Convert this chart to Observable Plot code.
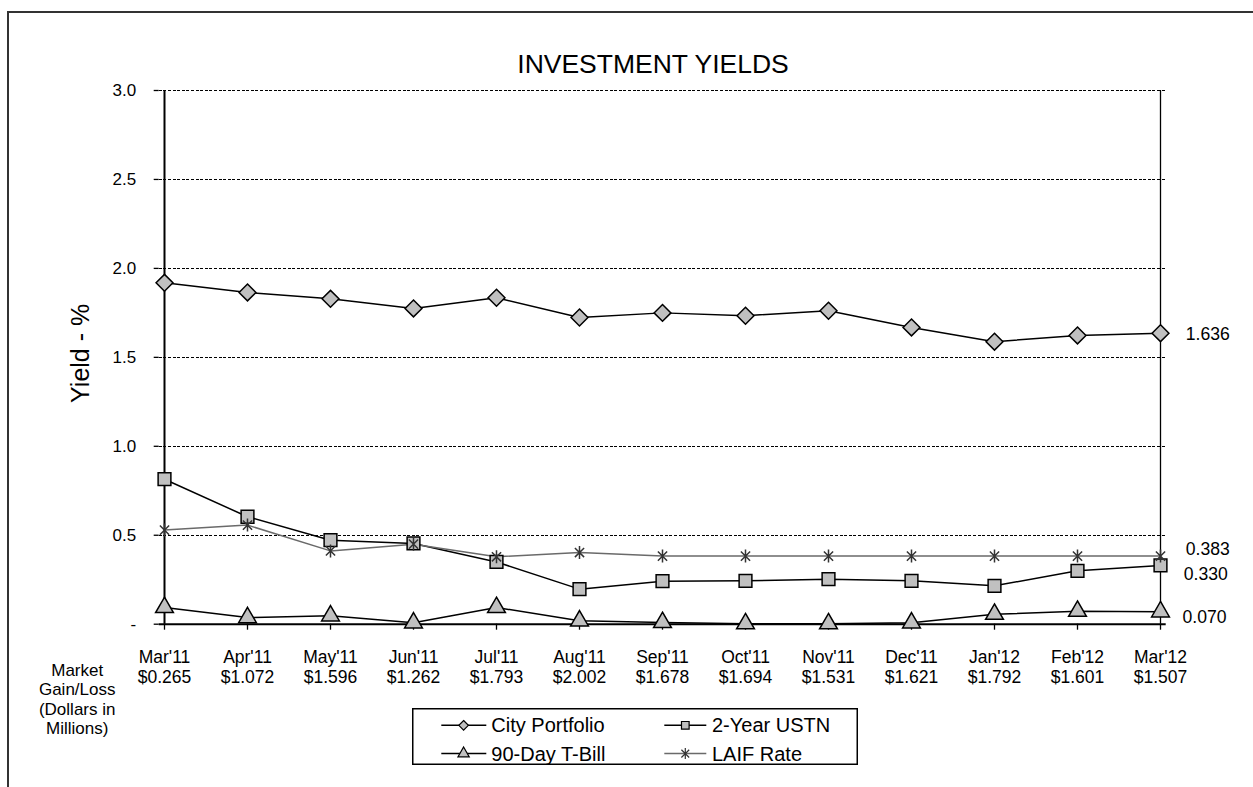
<!DOCTYPE html>
<html>
<head>
<meta charset="utf-8">
<script src="https://cdn.jsdelivr.net/npm/d3@7"></script>
<script src="https://cdn.jsdelivr.net/npm/@observablehq/plot@0.6"></script>
<style>
  html, body { margin: 0; padding: 0; background: #fff; overflow: hidden; }
  #page { position: relative; width: 1253px; height: 787px; font-family: "Liberation Sans", Arial, sans-serif; }
  #frame { position: absolute; left: 7px; top: 11px; width: 1300px; height: 820px; border-left: 2px solid #333; border-top: 2px solid #333; }
  #chart { position: absolute; left: 0; top: 0; }
  #legend { position: absolute; left: 411.7px; top: 707.7px; }
</style>
</head>
<body>
<div id="page">
  <div id="frame"></div>
  <div id="chart"></div>
  <div id="legend"></div>
</div>
<script>
// ---- data ----
const months = ["Mar'11","Apr'11","May'11","Jun'11","Jul'11","Aug'11","Sep'11","Oct'11","Nov'11","Dec'11","Jan'12","Feb'12","Mar'12"];
const gainLoss = ["$0.265","$1.072","$1.596","$1.262","$1.793","$2.002","$1.678","$1.694","$1.531","$1.621","$1.792","$1.601","$1.507"];
const cityPortfolio = [1.919,1.865,1.829,1.775,1.835,1.724,1.750,1.734,1.762,1.668,1.588,1.623,1.636];
const twoYearUSTN   = [0.815,0.604,0.472,0.454,0.350,0.197,0.242,0.244,0.253,0.244,0.216,0.300,0.330];
const tBill90Day    = [0.094,0.037,0.047,0.008,0.094,0.019,0.010,0.003,0.003,0.008,0.056,0.073,0.070];
const laifRate      = [0.529,0.557,0.412,0.450,0.379,0.403,0.383,0.383,0.383,0.383,0.383,0.383,0.383];
const yTicks = [0, 0.5, 1.0, 1.5, 2.0, 2.5, 3.0];
const gridTicks = [0.5, 1.0, 1.5, 2.0, 2.5, 3.0];
const seriesNames = ["City Portfolio", "2-Year USTN", "90-Day T-Bill", "LAIF Rate"];

const FONT = '"Liberation Sans", Arial, sans-serif';
const rows = arr => months.map((m, i) => ({m, v: arr[i]}));
const xRows = months.map((m, i) => ({m, g: gainLoss[i]}));
const last = arr => [{m: months[months.length - 1], v: arr[arr.length - 1]}];

// Excel-style star: vertical stroke plus an X
const starSymbol = {
  draw(context, size) {
    const r = Math.sqrt(size / Math.PI);
    const a = r * 0.7071;
    context.moveTo(0, -r); context.lineTo(0, r);
    context.moveTo(-a, -a); context.lineTo(a, a);
    context.moveTo(-a, a); context.lineTo(a, -a);
  }
};

const fillGray = "#c0c0c0";

const series = [
  {data: cityPortfolio, symbol: "diamond2", sym: d3.symbolDiamond2, r: 7.6, lr: 4.3, line: "#000", mstroke: "#000", fill: fillGray, dy: 1.6, dx: 25.3},
  {data: twoYearUSTN, symbol: "square", sym: d3.symbolSquare, r: 7.2, lr: 4.3, line: "#000", mstroke: "#000", fill: fillGray, dy: 9, dx: 23.3},
  {data: tBill90Day, symbol: "triangle", sym: d3.symbolTriangle, r: 6.6, lr: 4.2, line: "#000", mstroke: "#000", fill: fillGray, dy: 5.5, dx: 22},
  {data: laifRate, symbol: starSymbol, sym: starSymbol, r: 6.5, lr: 5.5, line: "#6a6a6a", mstroke: "#333", fill: "none", dy: -6.3, dx: 25.3}
];

const marks = [
  Plot.ruleY(gridTicks, {stroke: "#000", strokeWidth: 1, strokeDasharray: "3,1.6", shapeRendering: "crispEdges"}),
  Plot.ruleX([months[months.length - 1]], {stroke: "#000", strokeWidth: 1.3}),
  Plot.axisY({ticks: yTicks, tickFormat: d => d === 0 ? "-" : d.toFixed(1), tickSize: 5, tickPadding: 18,
              fontSize: 17, label: null, stroke: "#000", strokeWidth: 1.3, fill: "#000"}),
  Plot.axisX({ticks: months, tickSize: 6, tickFormat: () => "", label: null, stroke: "#000", strokeWidth: 1.3}),
  Plot.ruleX([months[0]], {stroke: "#000", strokeWidth: 2}),
  Plot.ruleY([0], {stroke: "#000", strokeWidth: 2}),
  Plot.text(months, {x: d => d, text: d => d, frameAnchor: "bottom", dy: 33, fontSize: 17.5, lineAnchor: "middle", fill: "#000"}),
  Plot.text(xRows, {x: "m", text: "g", frameAnchor: "bottom", dy: 53, fontSize: 17.5, lineAnchor: "middle", fill: "#000"}),
  Plot.text(["Market\nGain/Loss\n(Dollars in\nMillions)"], {text: d => d, frameAnchor: "bottom-left", dx: -82, dy: 74.6,
            fontSize: 17, lineHeight: 1.147, lineAnchor: "middle", textAnchor: "middle", fill: "#000"}),
  Plot.text(["Yield - %"], {text: d => d, frameAnchor: "left", rotate: -90, dx: -78.7, dy: -4, fontSize: 25,
            textAnchor: "middle", lineAnchor: "middle", fill: "#000"}),
  Plot.text(["INVESTMENT YIELDS"], {text: d => d, frameAnchor: "top", dx: -9.7, dy: -25.5, fontSize: 26.5,
            lineAnchor: "middle", fill: "#000"})
];

for (const s of series) {
  marks.push(Plot.line(rows(s.data), {x: "m", y: "v", stroke: s.line, strokeWidth: 1.5}));
}
for (const s of series) {
  marks.push(Plot.dot(rows(s.data), {x: "m", y: "v", symbol: s.symbol, r: s.r, fill: s.fill, stroke: s.mstroke, strokeWidth: 1.5}));
}
for (const s of series) {
  marks.push(Plot.text(last(s.data), {x: "m", y: "v", text: d => d.v.toFixed(3), dx: s.dx, dy: s.dy,
             textAnchor: "start", fontSize: 17.6, lineAnchor: "middle", fill: "#000"}));
}

const chart = Plot.plot({
  width: 1253, height: 787,
  marginLeft: 158.7, marginRight: 87.3, marginTop: 90, marginBottom: 163.3,
  style: {fontFamily: FONT, background: "transparent", overflow: "visible", color: "#000"},
  x: {type: "point", domain: months, padding: 0},
  y: {domain: [0, 3]},
  marks
});
document.getElementById("chart").appendChild(chart);

// ---- legend ----
const lw = 446, lh = 57;
const lsvg = d3.select("#legend").append("svg").attr("width", lw).attr("height", lh)
  .style("font-family", FONT);
lsvg.append("rect").attr("x", 0.75).attr("y", 0.75).attr("width", lw - 1.5).attr("height", lh - 1.5)
  .attr("fill", "#fff").attr("stroke", "#000").attr("stroke-width", 1.5);
const cols = [{x1: 29.3, x2: 74.3, mx: 51.6, tx: 79.3}, {x1: 252.3, x2: 294.3, mx: 273.3, tx: 300}];
const rowY = [17.3, 45.6];
series.forEach((s, i) => {
  const c = cols[i % 2], y = rowY[Math.floor(i / 2)];
  const g = lsvg.append("g");
  g.append("line").attr("x1", c.x1).attr("x2", c.x2).attr("y1", y).attr("y2", y)
    .attr("stroke", s.line).attr("stroke-width", 1.5);
  g.append("path").attr("d", d3.symbol(s.sym, s.lr * s.lr * Math.PI)())
    .attr("transform", `translate(${c.mx},${y})`)
    .attr("fill", s.fill).attr("stroke", s.mstroke).attr("stroke-width", 1.2);
  g.append("text").attr("x", c.tx).attr("y", y).attr("dy", "0.35em").attr("font-size", 20)
    .attr("fill", "#000").text(seriesNames[i]);
});
</script>
</body>
</html>
